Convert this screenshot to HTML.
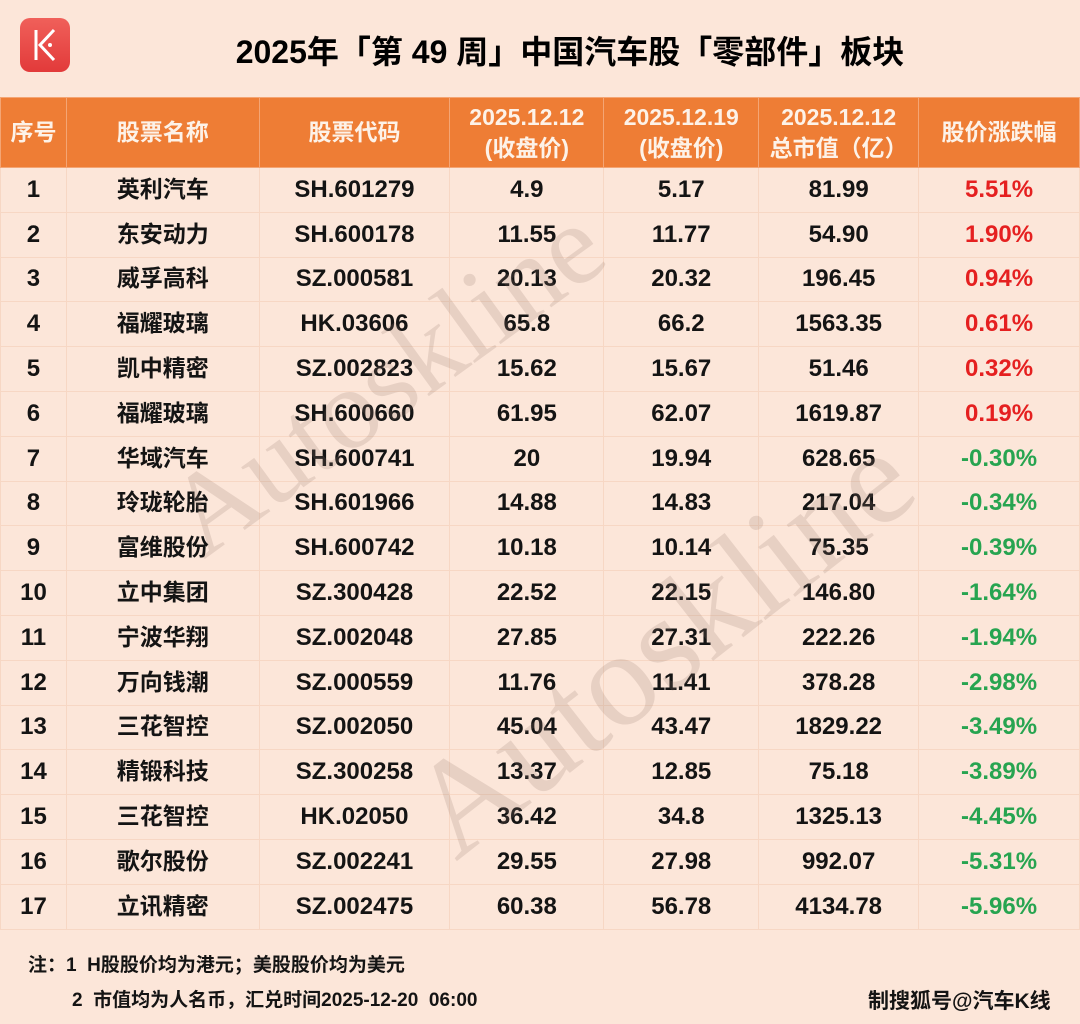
<!DOCTYPE html>
<html><head><meta charset="utf-8"><style>
body{margin:0;width:1080px;height:1024px;background:#fce6d9;font-family:"Liberation Sans","Noto Sans CJK SC",sans-serif;position:relative;overflow:hidden;color:#141414}
.logo{position:absolute;left:20px;top:18px;width:50px;height:54px;border-radius:10px;background:linear-gradient(#f0605a,#e23a3a)}
.title{position:absolute;left:0;width:1080px;top:27px;text-align:center;font-size:32px;font-weight:bold;padding-left:60px;box-sizing:border-box;color:#000}
table{position:absolute;left:0;top:97px;border-collapse:collapse;width:1080px}
td{border:1px solid #f7d7c4;text-align:center;font-size:24px;height:43.8px;padding:0;line-height:1}
tbody td{font-weight:bold}
td.n{font-family:"Noto Sans CJK SC",sans-serif;font-size:23px;height:38.8px;padding-bottom:5px}
thead td{background:#ee7d35;color:#fdf2e8;font-weight:bold;height:69px;border-color:#f4a574;font-size:23px;line-height:31px;font-family:"Liberation Sans","Noto Sans CJK SC",sans-serif}
.r{color:#e52020}.g{color:#27a450}
.wm{position:absolute;font-family:"Liberation Serif",serif;color:rgba(150,120,110,.2);transform-origin:left bottom;white-space:nowrap;line-height:1}
.ft{position:absolute;font-size:19px;font-weight:bold}
</style></head><body>
<div class="logo"><svg width="50" height="54"><path d="M16 12V42M34 12L20 27L34 42" stroke="#fff" stroke-width="3" fill="none"/><circle cx="30" cy="27" r="2" fill="#fff"/></svg></div>
<div class="title">2025年「第 49 周」中国汽车股「零部件」板块</div>
<table>
<colgroup><col style="width:66px"><col style="width:193px"><col style="width:191px"><col style="width:154px"><col style="width:155px"><col style="width:160px"><col style="width:161px"></colgroup>
<thead><tr><td>序号</td><td>股票名称</td><td>股票代码</td><td>2025.12.12<br>(收盘价)</td><td>2025.12.19<br>(收盘价)</td><td>2025.12.12<br>总市值（亿）</td><td>股价涨跌幅</td></tr></thead>
<tbody>
<tr><td>1</td><td class="n">英利汽车</td><td>SH.601279</td><td>4.9</td><td>5.17</td><td>81.99</td><td class="r">5.51%</td></tr>
<tr><td>2</td><td class="n">东安动力</td><td>SH.600178</td><td>11.55</td><td>11.77</td><td>54.90</td><td class="r">1.90%</td></tr>
<tr><td>3</td><td class="n">威孚高科</td><td>SZ.000581</td><td>20.13</td><td>20.32</td><td>196.45</td><td class="r">0.94%</td></tr>
<tr><td>4</td><td class="n">福耀玻璃</td><td>HK.03606</td><td>65.8</td><td>66.2</td><td>1563.35</td><td class="r">0.61%</td></tr>
<tr><td>5</td><td class="n">凯中精密</td><td>SZ.002823</td><td>15.62</td><td>15.67</td><td>51.46</td><td class="r">0.32%</td></tr>
<tr><td>6</td><td class="n">福耀玻璃</td><td>SH.600660</td><td>61.95</td><td>62.07</td><td>1619.87</td><td class="r">0.19%</td></tr>
<tr><td>7</td><td class="n">华域汽车</td><td>SH.600741</td><td>20</td><td>19.94</td><td>628.65</td><td class="g">-0.30%</td></tr>
<tr><td>8</td><td class="n">玲珑轮胎</td><td>SH.601966</td><td>14.88</td><td>14.83</td><td>217.04</td><td class="g">-0.34%</td></tr>
<tr><td>9</td><td class="n">富维股份</td><td>SH.600742</td><td>10.18</td><td>10.14</td><td>75.35</td><td class="g">-0.39%</td></tr>
<tr><td>10</td><td class="n">立中集团</td><td>SZ.300428</td><td>22.52</td><td>22.15</td><td>146.80</td><td class="g">-1.64%</td></tr>
<tr><td>11</td><td class="n">宁波华翔</td><td>SZ.002048</td><td>27.85</td><td>27.31</td><td>222.26</td><td class="g">-1.94%</td></tr>
<tr><td>12</td><td class="n">万向钱潮</td><td>SZ.000559</td><td>11.76</td><td>11.41</td><td>378.28</td><td class="g">-2.98%</td></tr>
<tr><td>13</td><td class="n">三花智控</td><td>SZ.002050</td><td>45.04</td><td>43.47</td><td>1829.22</td><td class="g">-3.49%</td></tr>
<tr><td>14</td><td class="n">精锻科技</td><td>SZ.300258</td><td>13.37</td><td>12.85</td><td>75.18</td><td class="g">-3.89%</td></tr>
<tr><td>15</td><td class="n">三花智控</td><td>HK.02050</td><td>36.42</td><td>34.8</td><td>1325.13</td><td class="g">-4.45%</td></tr>
<tr><td>16</td><td class="n">歌尔股份</td><td>SZ.002241</td><td>29.55</td><td>27.98</td><td>992.07</td><td class="g">-5.31%</td></tr>
<tr><td>17</td><td class="n">立讯精密</td><td>SZ.002475</td><td>60.38</td><td>56.78</td><td>4134.78</td><td class="g">-5.96%</td></tr>
</tbody></table>
<div class="wm" style="left:215px;top:460px;font-size:115px;transform:rotate(-36deg)">Autoskline</div>
<div class="wm" style="left:470px;top:745px;font-size:135px;transform:rotate(-38deg)">Autoskline</div>
<div class="ft" style="left:28px;top:950px">注：1&nbsp; H股股价均为港元；美股股价均为美元</div>
<div class="ft" style="left:72px;top:985px">2&nbsp; 市值均为人名币，汇兑时间2025-12-20&nbsp; 06:00</div>
<div class="ft" style="left:868px;top:985px;font-size:21px">制搜狐号@汽车K线</div>
</body></html>
